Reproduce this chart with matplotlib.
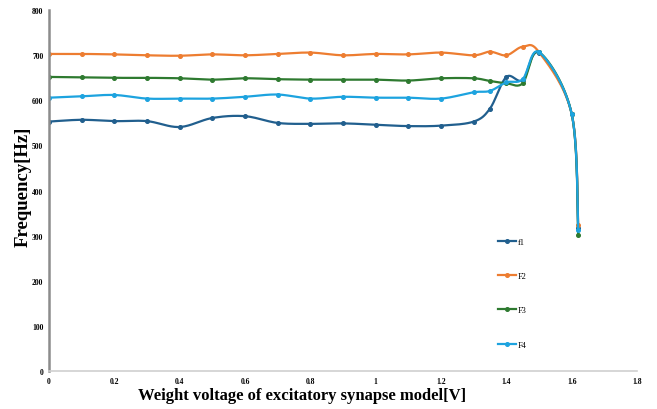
import numpy as np
import matplotlib
matplotlib.use("Agg")
import matplotlib.pyplot as plt
from matplotlib.lines import Line2D

x = [0, 0.1, 0.2, 0.3, 0.4, 0.5, 0.6, 0.7, 0.8, 0.9, 1.0, 1.1, 1.2, 1.3, 1.35, 1.4, 1.45, 1.5, 1.6, 1.62]
f1 = [553, 557, 554, 554, 541, 561, 565, 550, 548, 549, 546, 543, 544, 553, 582, 652, 645, 705, 570, 318]
F2 = [703, 703, 702, 700, 699, 702, 700, 703, 706, 700, 703, 702, 706, 700, 708, 700, 719, 707, 570, 324]
F3 = [652, 651, 650, 650, 649, 646, 649, 647, 646, 646, 646, 644, 649, 649, 643, 638, 638, 707, 570, 301]
F4 = [606, 609, 612, 604, 604, 604, 608, 613, 604, 608, 606, 606, 604, 618, 621, 640, 647, 707, 570, 313]
names = ["f1", "F2", "F3", "F4"]
colors = ["#215F8E", "#ED7D31", "#2E7A30", "#1DA3DF"]
xticks = [0, 0.2, 0.4, 0.6, 0.8, 1, 1.2, 1.4, 1.6, 1.8]
xticklabels = ["0", "0.2", "0.4", "0.6", "0.8", "1", "1.2", "1.4", "1.6", "1.8"]
yticks = [0, 100, 200, 300, 400, 500, 600, 700, 800]


def smooth(xs, ys, n=20, tension=0.5):
    # Catmull-Rom style smoothing in the spirit of Excel "smoothed line"
    xs = np.asarray(xs, float)
    ys = np.asarray(ys, float)
    px = np.concatenate([[xs[0]], xs, [xs[-1]]])
    py = np.concatenate([[ys[0]], ys, [ys[-1]]])
    ox, oy = [], []
    for i in range(1, len(px) - 2):
        p0 = np.array([px[i - 1], py[i - 1]])
        p1 = np.array([px[i], py[i]])
        p2 = np.array([px[i + 1], py[i + 1]])
        p3 = np.array([px[i + 2], py[i + 2]])
        c1 = p1 + (p2 - p0) * tension / 3
        c2 = p2 - (p3 - p1) * tension / 3
        t = np.linspace(0, 1, n)[:, None]
        b = (1 - t) ** 3 * p1 + 3 * (1 - t) ** 2 * t * c1 + 3 * (1 - t) * t ** 2 * c2 + t ** 3 * p2
        ox.extend(b[:, 0])
        oy.extend(b[:, 1])
    return ox, oy


fig = plt.figure(figsize=(6.57, 4.10), dpi=100)
ax = fig.add_axes([0.0746, 0.0927, 0.895, 0.880])

handles = []
for ys, name, c in zip([f1, F2, F3, F4], names, colors):
    sx, sy = smooth(x, ys)
    ax.plot(sx, sy, color=c, lw=1.6, solid_capstyle="round")
    ax.plot(x, ys, linestyle="none", marker="o", ms=2.6, color=c)
    handles.append(Line2D([0], [0], color=c, lw=1.6, marker="o", ms=2.6))

ax.set_xlim(0, 1.8)
ax.set_ylim(0, 800)
ax.set_xticks(xticks)
ax.set_xticklabels(xticklabels)
ax.set_yticks(yticks)
ax.tick_params(length=0, labelsize=5.5, pad=4)
for lab in ax.get_xticklabels() + ax.get_yticklabels():
    lab.set_fontfamily("Liberation Serif")
    lab.set_fontweight("bold")

for s in ["top", "right"]:
    ax.spines[s].set_visible(False)
ax.spines["left"].set_color("#8c8c8c")
ax.spines["left"].set_linewidth(1.8)
ax.spines["bottom"].set_color("#d0d0d0")
ax.spines["bottom"].set_linewidth(1.2)

ax.set_xlabel("Weight voltage of excitatory synapse model[V]", fontsize=12,
              fontweight="bold", fontfamily="Liberation Serif")
ax.xaxis.set_label_coords(0.43, -0.045)
ax.set_ylabel("Frequency[Hz]", fontsize=13.5, fontweight="bold",
              fontfamily="Liberation Serif")
ax.yaxis.set_label_coords(-0.03, 0.512)

leg = ax.legend(handles, names, loc="upper left", bbox_to_anchor=(0.75, 0.39),
                frameon=False, handlelength=2.2, handletextpad=0.2,
                labelspacing=3.15, prop={"family": "Liberation Serif", "size": 6})

fig.savefig("out.png", dpi=100)
